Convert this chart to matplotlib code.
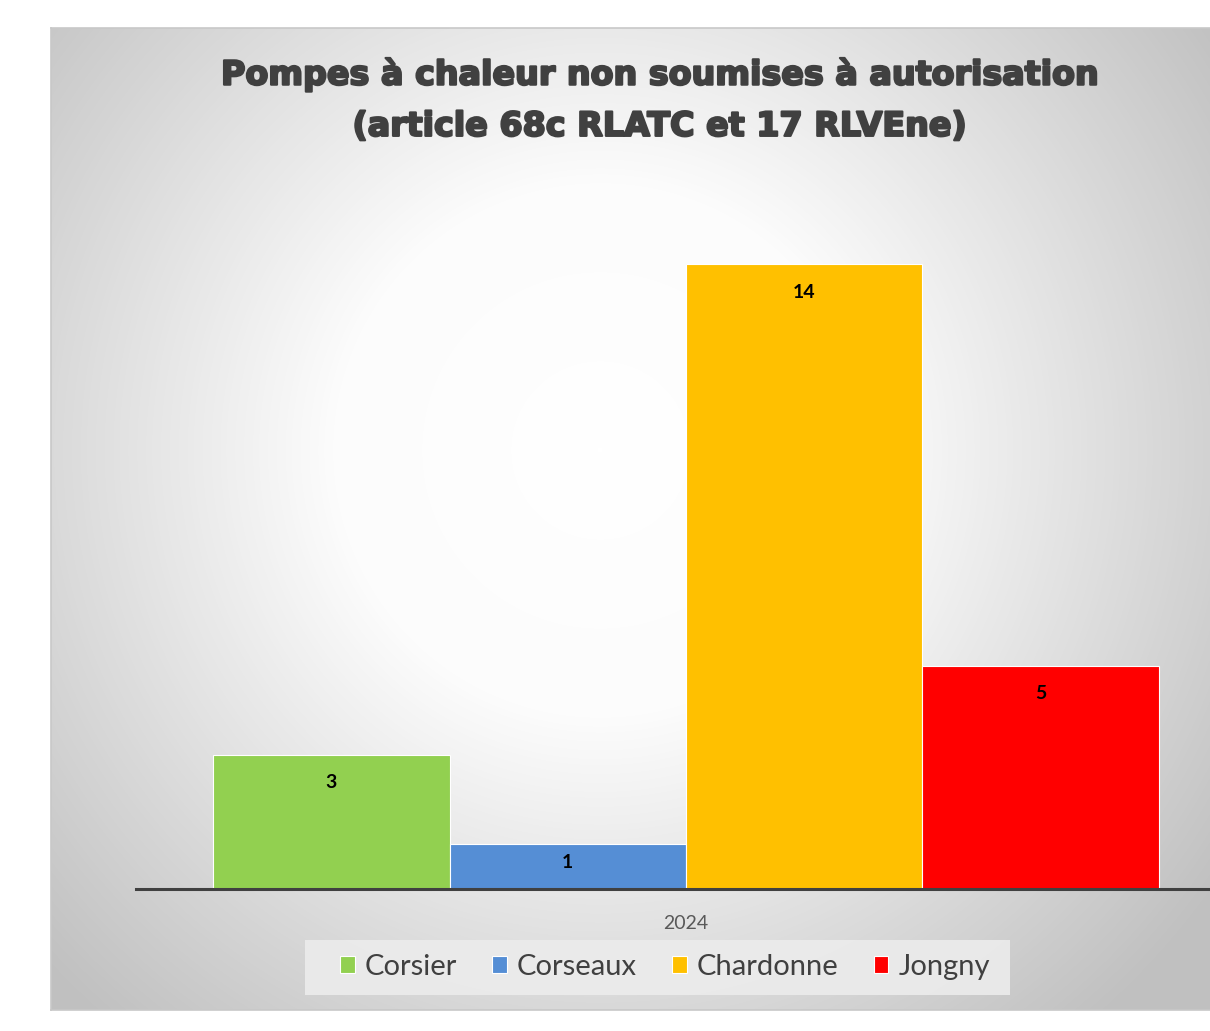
import numpy as np
from matplotlib import pyplot as plt
from matplotlib.colors import LinearSegmentedColormap
from matplotlib.patches import Rectangle
import matplotlib.patheffects as pe

# data
communes = ['Corsier', 'Corseaux', 'Chardonne', 'Jongny']
values   = [3, 1, 14, 5]
colors   = ['#92D050', '#558ED5', '#FFC000', '#FF0000']
year     = '2024'
title    = 'Pompes à chaleur non soumises à autorisation\n(article 68c RLATC et 17 RLVEne)'

W, H = 1210, 1031
fig = plt.figure(figsize=(W/100., H/100.), dpi=100)

# chart frame with radial grey gradient
left, top, bottom, right = 51, 28, 1010, 1300
bg = fig.add_axes([left/W, (H-bottom)/H, (right-left)/W, (bottom-top)/H])
xx, yy = np.meshgrid(np.arange(left, right), np.arange(top, bottom))
r = np.hypot(xx - 600, yy - 450) / 760.
r = np.clip(r, 0, 1)
cmap = LinearSegmentedColormap.from_list('g', [(0, '#ffffff'), (0.35, '#fcfcfc'), (1, '#c0c0c0')])
bg.imshow(r, cmap=cmap, vmin=0, vmax=1, extent=(left, right, bottom, top), aspect='auto', interpolation='bilinear')
bg.set_xlim(left, right)
bg.set_ylim(bottom, top)
bg.set_xticks([])
bg.set_yticks([])
for s in bg.spines.values():
    s.set_color('#c8c8c8')
    s.set_linewidth(1.2)
# legend background box
bg.add_patch(Rectangle((305, 940), 705, 55, facecolor='#ececec', edgecolor='none', alpha=0.9))

# plot area
x0, x1, y0, y1 = 136, 1236, 175, 889
ax = fig.add_axes([x0/W, (H-y1)/H, (x1-x0)/W, (y1-y0)/H])
ax.patch.set_alpha(0)
x = np.arange(len(values))
bars = ax.bar(x, values, width=1.0, color=colors, edgecolor='white', linewidth=0.8)
for b, c, v in zip(bars, communes, values):
    b.set_label(c)
    off = -20 if v > 1 else -13
    ax.annotate(str(v), (b.get_x() + b.get_width()/2., v), xytext=(0, off), textcoords='offset points',
                ha='center', va='center', fontsize=14, fontweight='bold', family='Lato', color='black')
ax.set_xlim(-0.826, 3.826)
ax.set_ylim(0, 16)
ax.set_yticks([])
ax.set_xticks([1.5])
ax.set_xticklabels([year], fontsize=14, family='Lato', color='#595959')
ax.tick_params(axis='x', length=0, pad=19)
for s in ['top', 'right', 'left']:
    ax.spines[s].set_visible(False)
ax.spines['bottom'].set_color('#404040')
ax.spines['bottom'].set_linewidth(2.2)

fig.text(660/W, 1 - 100/H, title, ha='center', va='center', fontsize=24, fontweight='bold',
         family='DejaVu Sans', color='#404040', linespacing=1.7,
         path_effects=[pe.withStroke(linewidth=1.6, foreground='#404040')])

leg = fig.legend(handles=list(bars), labels=communes, loc='center', bbox_to_anchor=(665/W, 1 - 967/H),
                 ncol=4, frameon=False, prop=dict(family='Lato', size=21),
                 handlelength=0.5, handleheight=0.5, handletextpad=0.35, columnspacing=1.2)
for t in leg.get_texts():
    t.set_color('#404040')

fig.savefig('out.png')
plt.close(fig)
